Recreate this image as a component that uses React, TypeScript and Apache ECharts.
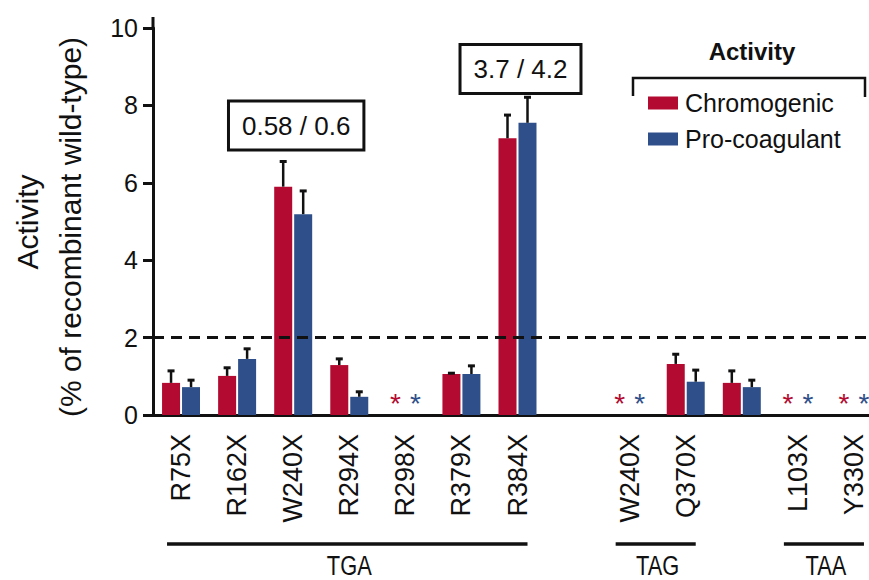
import React, { useEffect, useRef } from 'react';
import * as echarts from 'echarts';

// ---- data ----
const categories = ['R75X', 'R162X', 'W240X', 'R294X', 'R298X', 'R379X', 'R384X', '', 'W240X', 'Q370X', '', 'L103X', 'Y330X'];
const chromogenic = [0.83, 1.01, 5.9, 1.29, null, 1.06, 7.15, null, null, 1.32, 0.83, null, null];
const chromogenicErr = [1.14, 1.22, 6.55, 1.45, null, 1.08, 7.75, null, null, 1.57, 1.14, null, null];
const procoagulant = [0.72, 1.45, 5.19, 0.47, null, 1.06, 7.55, null, null, 0.86, 0.72, null, null];
const procoagulantErr = [0.9, 1.71, 5.79, 0.6, null, 1.27, 8.21, null, null, 1.16, 0.9, null, null];
const belowDetection = [false, false, false, false, true, false, false, false, true, false, false, true, true];
const threshold = 2;
const yMin = 0;
const yMax = 10;
const yInterval = 2;
const annotationIndex = [2, 6];
const annotationY = [7.48, 8.94];
const annotationText = ['0.58 / 0.6', '3.7 / 4.2'];
const groupNames = ['TGA', 'TAG', 'TAA'];
const groupFirst = [0, 8, 11];
const groupLast = [6, 9, 12];
const seriesNames = ['Chromogenic', 'Pro-coagulant'];

const RED = '#B20A30';
const BLUE = '#2E4F8A';
const INK = '#111111';
const FONT = '"Liberation Sans", Arial, Helvetica, sans-serif';

const BAR_OFFSET = 10;

function errorRender(offset: number) {
  return (params: any, api: any) => {
    const i = api.value(0);
    const v = api.value(1);
    const e = api.value(2);
    const base = api.coord([i, v]);
    const top = api.coord([i, e]);
    const x = base[0] + offset;
    return {
      type: 'group',
      children: [
        { type: 'line', shape: { x1: x, y1: base[1], x2: x, y2: top[1] }, style: { stroke: INK, lineWidth: 2.5 } },
        { type: 'line', shape: { x1: x - 3.5, y1: top[1], x2: x + 3.5, y2: top[1] }, style: { stroke: INK, lineWidth: 3 } },
      ],
    };
  };
}

export default function App() {
  const ref = useRef<HTMLDivElement>(null);
  useEffect(() => {
    if (!ref.current) return;
    const chart = echarts.init(ref.current, undefined, { renderer: 'svg' });

    const errData = (vals: (number | null)[], errs: (number | null)[]) =>
      vals.map((v, i) => (v == null ? null : [i, v, errs[i]])).filter((d) => d != null);

    const option: any = {
      animation: false,
      backgroundColor: '#ffffff',
      textStyle: { fontFamily: FONT },
      grid: { left: 153, top: 28, height: 387, width: 729, outerBoundsMode: 'none', containLabel: false },
      legend: {
        data: seriesNames,
        orient: 'vertical',
        left: 648,
        top: 89,
        padding: 0,
        icon: 'rect',
        itemWidth: 30,
        itemHeight: 13,
        itemGap: 8,
        textStyle: { fontSize: 25, color: INK, fontFamily: FONT, lineHeight: 28, padding: [0, 0, 0, 2] },
        selectedMode: false,
      },
      xAxis: {
        type: 'category',
        data: categories,
        axisLine: { lineStyle: { color: INK, width: 3 } },
        axisTick: {
          alignWithLabel: true,
          length: 10,
          lineStyle: { color: INK, width: 3 },
          interval: (index: number, value: string) => value !== '',
        },
        axisLabel: { rotate: 90, fontSize: 27, color: INK, margin: 19, interval: 0, fontFamily: FONT },
        splitLine: { show: false },
      },
      yAxis: {
        type: 'value',
        min: yMin,
        max: yMax,
        interval: yInterval,
        axisLine: { show: true, lineStyle: { color: INK, width: 3 } },
        axisTick: { show: true, length: 10, lineStyle: { color: INK, width: 3 } },
        axisLabel: { fontSize: 25, color: INK, margin: 15, fontFamily: FONT },
        splitLine: { show: false },
      },
      series: [
        {
          name: seriesNames[0],
          type: 'bar',
          data: chromogenic,
          barWidth: 18,
          barGap: '11%',
          itemStyle: { color: RED },
          markLine: {
            silent: true,
            symbol: 'none',
            label: { show: false },
            lineStyle: { color: INK, width: 3, type: [11, 7] },
            data: [{ yAxis: threshold }],
          },
        },
        {
          name: seriesNames[1],
          type: 'bar',
          data: procoagulant,
          barWidth: 18,
          barGap: '11%',
          itemStyle: { color: BLUE },
        },
        {
          type: 'custom',
          renderItem: errorRender(-BAR_OFFSET),
          data: errData(chromogenic, chromogenicErr),
          encode: { x: 0, y: 1 },
          z: 5,
        },
        {
          type: 'custom',
          renderItem: errorRender(BAR_OFFSET),
          data: errData(procoagulant, procoagulantErr),
          encode: { x: 0, y: 1 },
          z: 5,
        },
        {
          type: 'custom',
          data: belowDetection.map((b, i) => (b ? [i, 0] : null)).filter((d) => d != null),
          encode: { x: 0, y: 1 },
          renderItem: (params: any, api: any) => {
            const p = api.coord([api.value(0), api.value(1)]);
            return {
              type: 'group',
              children: [
                { type: 'text', style: { text: '*', x: p[0] - BAR_OFFSET, y: p[1] - 12, align: 'center', verticalAlign: 'middle', fill: RED, font: `28px ${FONT}` } },
                { type: 'text', style: { text: '*', x: p[0] + BAR_OFFSET, y: p[1] - 12, align: 'center', verticalAlign: 'middle', fill: BLUE, font: `28px ${FONT}` } },
              ],
            };
          },
          z: 5,
        },
        {
          type: 'custom',
          data: annotationIndex.map((idx, k) => [idx, annotationY[k], k]),
          encode: { x: 0, y: 1 },
          renderItem: (params: any, api: any) => {
            const p = api.coord([api.value(0), api.value(1)]);
            const k = api.value(2);
            return {
              type: 'text',
              style: {
                text: annotationText[k],
                x: p[0] + 3,
                y: p[1],
                align: 'center',
                verticalAlign: 'middle',
                fill: INK,
                font: `26px ${FONT}`,
                lineHeight: 28,
                backgroundColor: '#ffffff',
                borderColor: INK,
                borderWidth: 3,
                padding: [9, 12, 9, 12],
              },
            };
          },
          z: 6,
        },
      ],
    };
    chart.setOption(option);

    // decorations positioned from the axes
    const px = (i: number) => chart.convertToPixel({ xAxisIndex: 0 }, i) as number;
    const py = (v: number) => chart.convertToPixel({ yAxisIndex: 0 }, v) as number;
    const axisX = px(0) - (px(1) - px(0)) / 2;
    const lineY = 544;
    const labelY = 565;
    const graphic: any[] = [];
    groupNames.forEach((name, g) => {
      const a = px(groupFirst[g]);
      const b = px(groupLast[g]);
      graphic.push({
        type: 'line',
        shape: { x1: a - 14, y1: lineY, x2: b + 10, y2: lineY },
        style: { stroke: INK, lineWidth: 3.5 },
      });
      graphic.push({
        type: 'text',
        x: (a + b) / 2,
        y: labelY,
        scaleX: 0.78,
        style: { text: name, x: 0, y: 0, align: 'center', verticalAlign: 'middle', fill: INK, font: `28px ${FONT}` },
      });
    });
    // y axis line extends slightly above top tick
    graphic.push({
      type: 'line',
      shape: { x1: axisX, y1: py(yMax) - 11, x2: axisX, y2: py(yMax) },
      style: { stroke: INK, lineWidth: 3 },
    });
    // y axis title
    graphic.push({
      type: 'text',
      x: 27,
      y: 222,
      rotation: Math.PI / 2,
      style: { text: 'Activity', x: 0, y: 0, align: 'center', verticalAlign: 'middle', fill: INK, font: `30px ${FONT}` },
    });
    graphic.push({
      type: 'text',
      x: 70,
      y: 227,
      rotation: Math.PI / 2,
      style: { text: '(% of recombinant wild-type)', x: 0, y: 0, align: 'center', verticalAlign: 'middle', fill: INK, font: `30px ${FONT}` },
    });
    // legend title and bracket
    graphic.push({
      type: 'text',
      x: 752,
      y: 51,
      style: { text: 'Activity', x: 0, y: 0, align: 'center', verticalAlign: 'middle', fill: INK, font: `bold 24px ${FONT}` },
    });
    graphic.push({
      type: 'polyline',
      shape: { points: [[633, 96], [633, 78], [865, 78], [865, 97]] },
      style: { stroke: INK, lineWidth: 2.5, fill: 'none' },
    });
    chart.setOption({ graphic });

    return () => chart.dispose();
  }, []);

  return (
    <div
      ref={ref}
      style={{ position: 'fixed', left: 0, top: 0, width: 869, height: 580, background: '#fff' }}
    />
  );
}
